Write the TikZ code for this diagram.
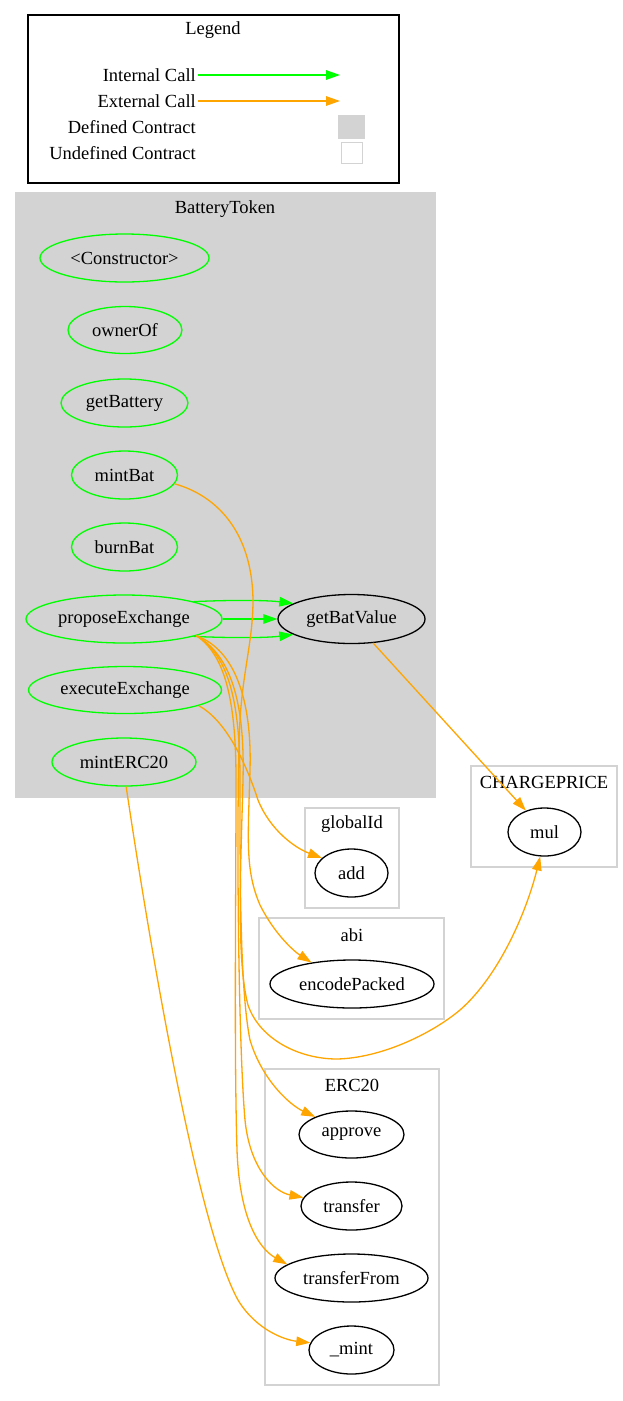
\documentclass[tikz,border=0pt]{standalone}
\usepackage{fontspec}
\setmainfont{Liberation Serif}
\usetikzlibrary{arrows.meta,shapes.geometric}
\definecolor{ggreen}{HTML}{00FF00}
\definecolor{gorange}{HTML}{FFA500}
\definecolor{ggray}{HTML}{D3D3D3}
\begin{document}
\begin{tikzpicture}[x=1pt,y=-1pt,
  every node/.style={font=\fontsize{18.5}{21}\selectfont},
  fn/.style={ellipse, draw, line width=1.3pt, inner sep=0pt},
  intfn/.style={fn, draw=ggreen},
  extfn/.style={fn, draw=black},
  cluster/.style={draw=ggray, line width=1.2pt},
  title/.style={inner sep=0pt},
  icall/.style={draw=ggreen, line width=1.3pt, -{Triangle[length=14pt,width=9.5pt]}},
  xcall/.style={draw=gorange, line width=1.3pt, -{Triangle[length=14pt,width=9.5pt]}},
]
\useasboundingbox (0,0) rectangle (623,1401);
\fill[white] (0,0) rectangle (623,1401);

% Legend
\draw[line width=1.2pt] (28,15) rectangle (399,183);
\node[title] (legend) at (213,30) {Legend};
\node[anchor=east, inner sep=2pt] (li) at (198,75) {Internal Call};
\node[anchor=east, inner sep=2pt] (le) at (198,101) {External Call};
\node[anchor=east, inner sep=2pt] (ld) at (198,127) {Defined Contract};
\node[anchor=east, inner sep=2pt] (lu) at (198,153) {Undefined Contract};
\coordinate (lie) at (340,75);
\coordinate (lee) at (340,101);
\draw[icall] (li.east) -- (lie);
\draw[xcall] (le.east) -- (lee);
\node[fill=ggray, minimum width=27pt, minimum height=24pt, inner sep=0pt] (defsq) at (351.5,127) {};
\node[draw=ggray, line width=1.2pt, minimum width=21pt, minimum height=21pt, inner sep=0pt] (undefsq) at (352,153) {};

% BatteryToken cluster
\fill[ggray] (15,192) rectangle (436,798);
\node[title] (bt) at (225,209) {BatteryToken};
\node[intfn, minimum width=169pt, minimum height=48pt] (cons) at (124.5,258) {\textless Constructor\textgreater};
\node[intfn, minimum width=114pt, minimum height=47pt] (owner) at (125,330) {ownerOf};
\node[intfn, minimum width=127pt, minimum height=48pt] (getbat) at (124.5,403) {getBattery};
\node[intfn, minimum width=106pt, minimum height=48pt] (mintbat) at (124.5,475) {mintBat};
\node[intfn, minimum width=106pt, minimum height=48pt] (burnbat) at (124.5,547) {burnBat};
\node[intfn, minimum width=196pt, minimum height=48pt] (propose) at (124,619) {proposeExchange};
\node[intfn, minimum width=193pt, minimum height=47pt] (execute) at (125,690) {executeExchange};
\node[intfn, minimum width=144pt, minimum height=48pt] (mint20) at (124,762) {mintERC20};
\node[extfn, minimum width=147pt, minimum height=49pt] (gbv) at (351.5,619) {getBatValue};

% CHARGEPRICE
\draw[cluster] (471,766) rectangle (617,867);
\node[title] (cp) at (544,782) {CHARGEPRICE};
\node[extfn, minimum width=73pt, minimum height=48pt] (mul) at (544.5,832) {mul};

% globalId
\draw[cluster] (305,808) rectangle (399,908);
\node[title] (gid) at (352,824) {globalId};
\node[extfn, minimum width=73pt, minimum height=48pt] (add) at (351.5,873) {add};

% abi
\draw[cluster] (259,918) rectangle (444,1019);
\node[title] (abi) at (352,935) {abi};
\node[extfn, minimum width=164pt, minimum height=48pt] (enc) at (352,984) {encodePacked};

% ERC20
\draw[cluster] (265,1069) rectangle (439,1385);
\node[title] (erc) at (352,1085) {ERC20};
\node[extfn, minimum width=105pt, minimum height=47pt] (approve) at (351.5,1134.5) {approve};
\node[extfn, minimum width=101pt, minimum height=48pt] (transfer) at (351.5,1206) {transfer};
\node[extfn, minimum width=153pt, minimum height=48pt] (tfrom) at (351.5,1278) {transferFrom};
\node[extfn, minimum width=85pt, minimum height=48pt] (mintx) at (351.5,1350) {\_mint};

% internal calls
\draw[icall] (propose.14) .. controls (230,600) and (265,600) .. (gbv.165);
\draw[icall] (propose.east) -- (gbv.west);
\draw[icall] (propose.-14) .. controls (230,638) and (265,638) .. (gbv.-165);

% external calls
\draw[xcall] (gbv.-48) -- (mul.131);
\draw[xcall] (execute.-12) .. controls (225,720) and (245,760) .. (258,800) .. controls (270,830) and (295,848) .. (add.153);
\draw[xcall] (propose.-13) .. controls (235,650) and (252,700) .. (250,770) .. controls (248,840) and (245,870) .. (260,905) .. controls (275,935) and (295,952) .. (enc.152);
\draw[xcall] (propose.-13) .. controls (230,655) and (245,700) .. (243,780) .. controls (241,860) and (236,960) .. (248,1005) .. controls (260,1040) and (300,1059) .. (337,1059) .. controls (380,1058) and (430,1035) .. (460,1010) .. controls (500,975) and (527,910) .. (mul.260);
\draw[xcall] (propose.-13) .. controls (228,655) and (240,700) .. (240,780) .. controls (240,880) and (240,990) .. (250,1040) .. controls (262,1080) and (290,1105) .. (approve.154);
\draw[xcall] (propose.-13) .. controls (225,655) and (236,700) .. (236,780) .. controls (236,900) and (234,1050) .. (237,1150) .. controls (240,1230) and (265,1252) .. (tfrom.168);
\draw[xcall] (mintbat.-10) .. controls (215,495) and (252,530) .. (253,600) .. controls (253,640) and (243,670) .. (240,720) .. controls (236,800) and (238,1040) .. (245,1120) .. controls (250,1170) and (275,1192) .. (transfer.170);
\draw[xcall] (mint20.-85) .. controls (158,1000) and (202,1235) .. (238,1300) .. controls (256,1330) and (285,1340) .. (mintx.170);
\end{tikzpicture}
\end{document}
